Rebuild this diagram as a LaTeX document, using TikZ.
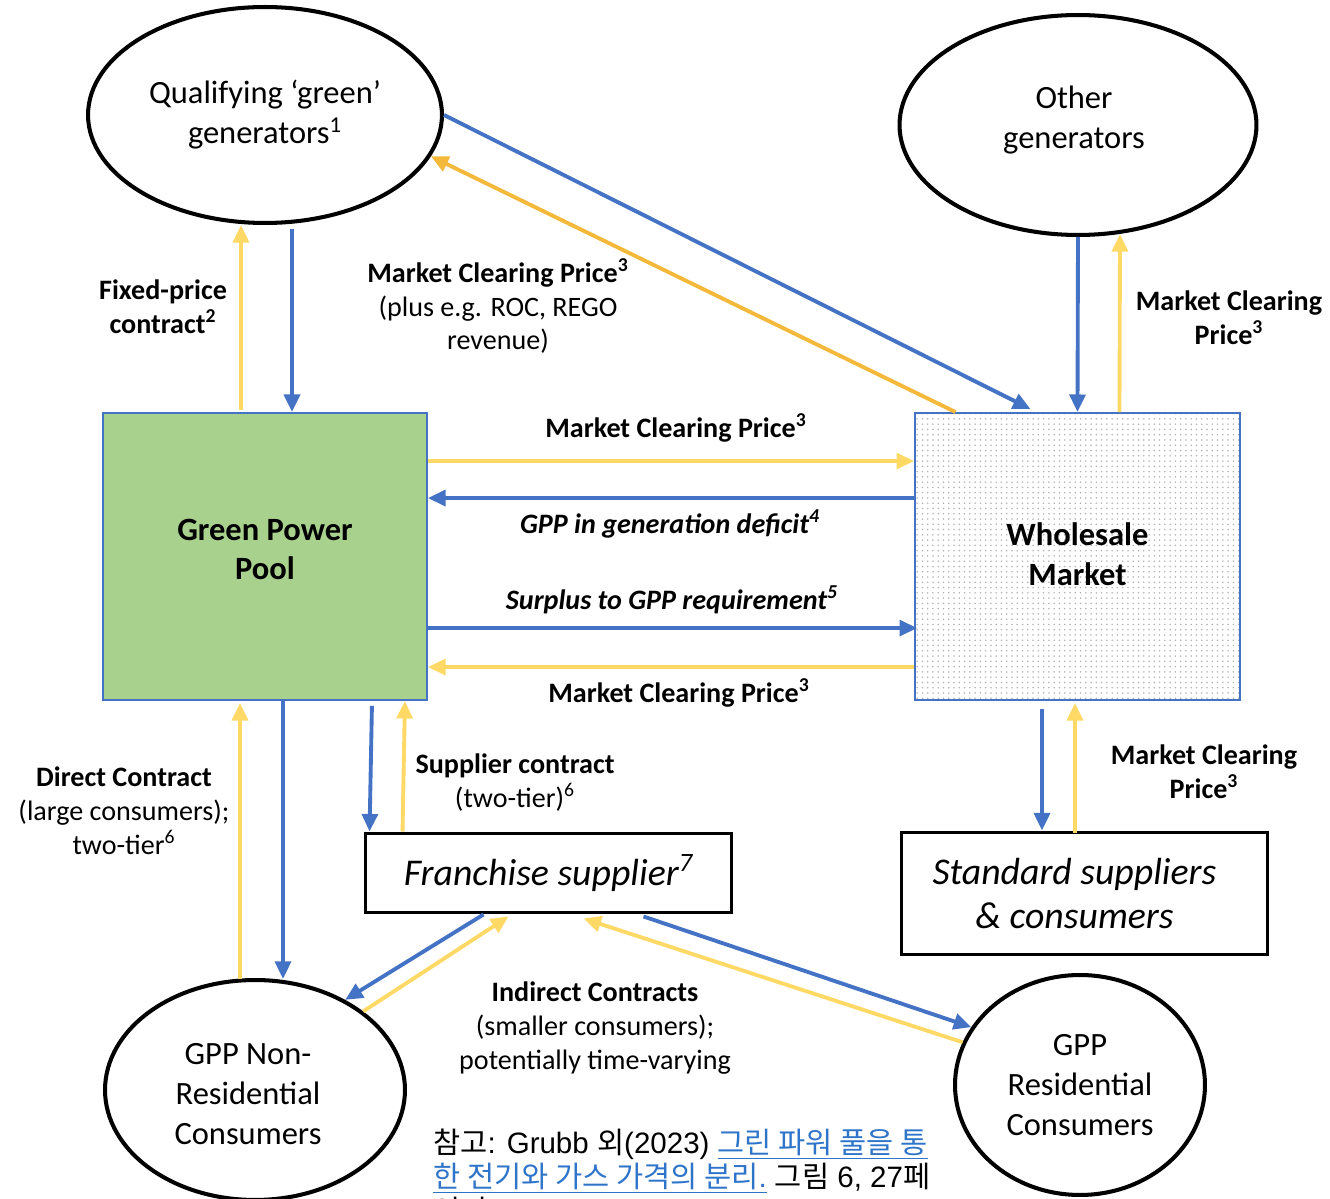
\documentclass[tikz,border=0pt]{standalone}
\usepackage{fontspec}
\setmainfont{Carlito}
\newfontfamily\krfont{Noto Sans CJK KR}
\newfontfamily\arialfont{Liberation Sans}
\usetikzlibrary{shapes.geometric,arrows.meta,patterns,calc}
\definecolor{gppblue}{HTML}{4472C4}
\definecolor{gppyellow}{HTML}{FFD966}
\definecolor{gpporange}{HTML}{F4B83A}
\definecolor{gppgreen}{HTML}{A9D18E}
\definecolor{linkblue}{HTML}{2E74C9}
\newcommand{\kr}[1]{{\krfont #1}}
\newcommand{\fnote}[1]{\textsuperscript{#1}}

\begin{document}
\begin{tikzpicture}[x=0.02cm,y=-0.02cm,
    >={Triangle[length=10pt,width=9pt]},
    blu/.style={->,gppblue,line width=2.2pt},
    yel/.style={->,gppyellow,line width=2.2pt},
    ell/.style={ellipse,draw,line width=2.3pt,inner sep=0pt,align=center,
      font=\fontsize{18.5}{22.7}\selectfont},
    pool/.style={draw=gppblue,line width=1.1pt,inner sep=0pt,align=center,
      font=\fontsize{18.5}{22.7}\selectfont\bfseries},
    supp/.style={draw,line width=1.7pt,inner sep=0pt,align=center,
      font=\fontsize{21.5}{25.5}\selectfont\itshape},
    lbl/.style={align=center,font=\fontsize{16}{19.3}\selectfont}]
    \useasboundingbox (0,0) rectangle (1330,1199);

    % generators
    \node[ell,minimum width=7.08cm,minimum height=4.32cm] (qg) at (265,115)
        {Qualifying ‘green’\\generators\fnote{1}};
    \node[ell,minimum width=7.14cm,minimum height=4.4cm] (og) at (1078,125) {};
    \node[align=center,font=\fontsize{18.5}{22.7}\selectfont] (ogtext) at ($(og)+(-4,-5)$) {Other\\generators};

    % pool and market
    \node[pool,fill=gppgreen,minimum width=6.48cm,minimum height=5.74cm] (gpp) at (265,556.5) {};
    \node[align=center,font=\fontsize{18.5}{22.7}\selectfont\bfseries] (gpptext) at ($(gpp)+(0,-7)$) {Green Power\\Pool};
    \node[pool,pattern=dots,pattern color=black!30,minimum width=6.5cm,minimum height=5.74cm] (wm) at (1077.5,556.5) {};
    \node[align=center,font=\fontsize{18.5}{22.7}\selectfont\bfseries] (wmtext) at ($(wm)+(0,-2)$) {Wholesale\\Market};

    % suppliers
    \node[supp,minimum width=7.34cm,minimum height=1.6cm] (fs) at (548.5,873)
        {Franchise supplier\fnote{7}};
    \node[supp,minimum width=7.34cm,minimum height=2.46cm] (ss) at (1084.5,893.5) {};
    \node[align=center,font=\fontsize{21.5}{25.5}\selectfont\itshape] (sstext) at ($(ss)+(-10,0)$) {Standard suppliers\\\& consumers};

    % consumers
    \node[ell,minimum width=6cm,minimum height=4.4cm] (nr) at (255,1090) {};
    \node[align=center,font=\fontsize{18.5}{22.7}\selectfont] (nrtext) at ($(nr)+(-7,4)$) {GPP Non-\\Residential\\Consumers};
    \node[ell,minimum width=5cm,minimum height=4.4cm] (rs) at (1080,1085)
        {GPP\\Residential\\Consumers};

    % pool <-> green generators
    \draw[yel] ($(gpp.north)+(-24,-2)$) -- ($(qg.south)+(-24,0)$);
    \draw[blu] ($(qg.south)+(27,4)$) -- ($(gpp.north)+(27,0)$);
    \node[lbl,font=\fontsize{16}{19.3}\selectfont\bfseries] (fixed) at (163,307) {Fixed-price\\contract\fnote{2}};

    % green generators <-> market
    \draw[blu] (qg.east) -- ($(wm.north)+(-47,-3)$);
    \draw[->,gpporange,line width=2.2pt] ($(wm.north)+(-122,0)$) -- (qg.-14);
    \node[lbl] (mcpqg) at (498,306) {\textbf{Market Clearing Price\fnote{3}}\\(plus e.g. ROC, REGO\\revenue)};

    % other generators <-> market
    \draw[blu] (og.south) -- (wm.north);
    \draw[yel] ($(wm.north)+(42,0)$) -- ($(og.south)+(42,-3)$);
    \node[lbl,font=\fontsize{16}{19.3}\selectfont\bfseries] (mcpog) at (1229,318) {Market Clearing\\Price\fnote{3}};

    % pool <-> market
    \draw[yel] ($(gpp.north east)+(0,49)$) -- ($(wm.north west)+(0,49)$);
    \draw[blu] ($(wm.north west)+(0,86)$) -- ($(gpp.north east)+(0,86)$);
    \draw[blu] ($(gpp.north east)+(0,216)$) -- ($(wm.north west)+(3,216)$);
    \draw[yel] ($(wm.north west)+(0,255)$) -- ($(gpp.north east)+(0,255)$);
    \node[lbl,font=\fontsize{16}{19.3}\selectfont\bfseries] (mcp1) at (676,428) {Market Clearing Price\fnote{3}};
    \node[lbl,font=\fontsize{16}{19.3}\selectfont\bfseries\itshape] (deficit) at (670,524) {GPP in generation deficit\fnote{4}};
    \node[lbl,font=\fontsize{16}{19.3}\selectfont\bfseries\itshape] (surplus) at (672,600) {Surplus to GPP requirement\fnote{5}};
    \node[lbl,font=\fontsize{16}{19.3}\selectfont\bfseries] (mcp2) at (679,693) {Market Clearing Price\fnote{3}};

    % pool <-> large consumers
    \draw[yel] ($(nr.north)+(-15,1)$) -- ($(gpp.south)+(-25,2)$);
    \draw[blu] ($(gpp.south)+(18,0)$) -- ($(nr.north)+(28,1)$);
    \node[lbl] (direct) at (124,811) {\textbf{Direct Contract}\\(large consumers);\\two-tier\fnote{6}};

    % pool <-> franchise supplier
    \draw[blu] ($(gpp.south east)+(-56,5)$) -- ($(fs.north west)+(6,0)$);
    \draw[yel] ($(fs.north west)+(39,0)$) -- ($(gpp.south east)+(-23,0)$);
    \node[lbl] (supcon) at (515,783) {\textbf{Supplier contract}\\(two-tier)\fnote{6}};

    % market <-> standard suppliers
    \draw[blu] ($(wm.south)+(-35.5,8)$) -- ($(ss.north)+(-42.5,0)$);
    \draw[yel] ($(ss.north)+(-9.5,2)$) -- ($(wm.south)+(-2.5,2)$);
    \node[lbl,font=\fontsize{16}{19.3}\selectfont\bfseries] (mcpss) at (1204,772) {Market Clearing\\Price\fnote{3}};

    % franchise supplier <-> smaller consumers
    \draw[blu] ($(fs.south west)+(120,0)$) -- (nr.45);
    \draw[yel] (nr.36) -- ($(fs.south west)+(145,2)$);
    \draw[blu] ($(fs.south west)+(280,2)$) -- (rs.152);
    \draw[yel] (rs.160) -- ($(fs.south west)+(220,4)$);
    \node[lbl] (indirect) at (595,1028) {\textbf{Indirect Contracts}\\(smaller consumers);\\potentially time-varying};

    % source note
    \node[anchor=base west,align=left,inner sep=0pt,
      font=\arialfont\fontsize{16.8}{19.3}\selectfont] (note) at (433,1221)
      {\kr{참고}: Grubb \kr{외}(2023) \textcolor{linkblue}{\underline{\kr{그린 파워 풀을 통}}}\\
       \textcolor{linkblue}{\underline{\kr{한 전기와 가스 가격의 분리}.}} \kr{그림} 6, 27\kr{페}\\
       \kr{이지.}};
\end{tikzpicture}
\end{document}
